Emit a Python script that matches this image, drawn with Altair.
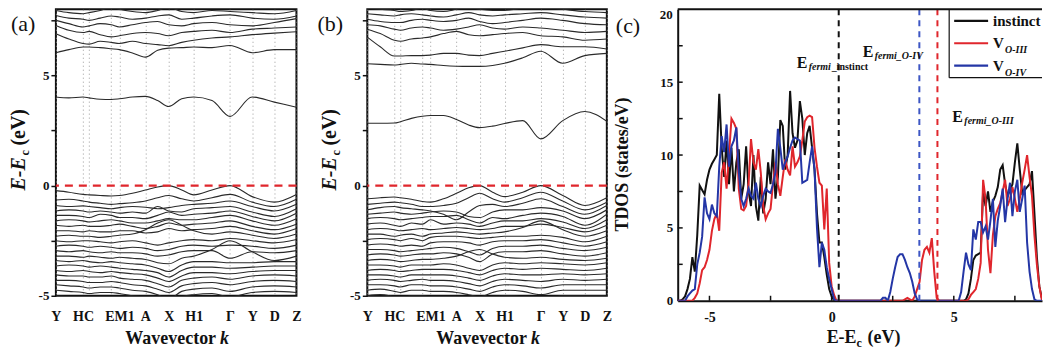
import altair as alt
import pandas as pd

SERIF = "Liberation Serif"
INK = "#111111"
RED = "#e0262c"
BLUE_CURVE = "#2436a6"
BLUE_DASH = "#3d56c4"

# ---------------- band structure data ----------------
K_POS = [0, 0.054, 0.113, 0.138, 0.184, 0.230, 0.264, 0.318, 0.372, 0.423,
         0.469, 0.523, 0.573, 0.649, 0.724, 0.816, 0.908, 1.0]
K_TICKS = [0, 0.113, 0.138, 0.230, 0.264, 0.372, 0.469, 0.573, 0.724, 0.816, 0.908, 1.0]
K_NAMES = ["Y", "HC", "", "", "EM1", "A", "X", "H1", "Γ", "Y", "D", "Z"]

BANDS_A = [
    [4.02, 3.98, 4.02, 3.98, 3.92, 3.91, 3.94, 4.02, 4.05, 3.86, 3.59, 3.94, 4.02, 3.86, 3.14, 4.02, 3.79, 3.56],
    [6.03, 6.17, 6.29, 6.29, 6.26, 6.21, 6.17, 6.02, 5.83, 6.14, 6.24, 6.26, 6.29, 6.26, 6.36, 6.03, 6.17, 6.17],
    [6.89, 6.65, 6.45, 6.42, 6.55, 6.5, 6.45, 6.55, 6.45, 6.4, 6.35, 6.5, 6.6, 6.7, 6.75, 6.85, 6.92, 6.98],
    [7.27, 7.05, 6.95, 7.0, 6.85, 6.75, 6.8, 6.9, 6.95, 6.9, 6.8, 6.95, 7.0, 7.05, 6.95, 7.1, 7.15, 7.2],
    [7.5, 7.35, 7.2, 7.25, 7.35, 7.3, 7.2, 7.3, 7.4, 7.45, 7.3, 7.25, 7.35, 7.4, 7.3, 7.25, 7.4, 7.58],
    [7.72, 7.6, 7.55, 7.5, 7.6, 7.7, 7.65, 7.55, 7.6, 7.7, 7.75, 7.55, 7.6, 7.7, 7.75, 7.6, 7.55, 7.7],
    [7.95, 7.85, 7.8, 7.85, 7.95, 8.1, 8.0, 7.9, 7.85, 7.95, 8.1, 7.9, 7.85, 7.95, 7.9, 7.85, 7.8, 7.95],
    [-0.23, -0.3, -0.4, -0.42, -0.45, -0.47, -0.45, -0.35, -0.2, -0.06, 0.0, -0.2, -0.42, -0.2, 0.0, -0.5, -0.75, -0.4],
    [-0.65, -0.62, -0.7, -0.75, -0.8, -0.85, -0.82, -0.78, -0.7, -0.55, -0.45, -0.6, -0.7, -0.55, -0.4, -0.75, -0.95, -0.62],
    [-0.9, -0.95, -0.92, -0.95, -1.0, -1.05, -1.0, -0.95, -0.98, -1.05, -1.0, -0.9, -0.85, -0.8, -0.7, -0.95, -1.15, -0.85],
    [-1.15, -1.1, -1.15, -1.2, -1.15, -1.2, -1.25, -1.2, -1.25, -0.95, -1.15, -1.2, -1.05, -1.0, -0.95, -1.2, -1.4, -1.05],
    [-1.35, -1.35, -1.4, -1.45, -1.3, -1.35, -1.45, -1.45, -1.5, -1.35, -1.2, -1.35, -1.3, -1.25, -1.15, -1.4, -1.6, -1.25],
    [-1.6, -1.55, -1.6, -1.65, -1.6, -1.55, -1.6, -1.7, -1.7, -1.6, -1.5, -1.55, -1.55, -1.45, -1.35, -1.6, -1.8, -1.5],
    [-1.8, -1.85, -1.8, -1.85, -1.85, -1.8, -1.75, -1.85, -1.95, -1.85, -1.7, -1.8, -1.75, -1.7, -1.6, -1.85, -2.0, -1.75],
    [-2.05, -2.05, -2.1, -2.05, -2.1, -2.1, -2.05, -2.05, -2.15, -2.1, -1.95, -2.05, -2.0, -1.95, -1.85, -2.05, -2.2, -1.95],
    [-2.3, -2.25, -2.3, -2.3, -2.35, -2.3, -2.25, -2.2, -2.0, -1.7, -1.55, -1.8, -2.05, -2.2, -2.1, -2.25, -2.4, -2.2],
    [-2.5, -2.55, -2.5, -2.5, -2.55, -2.6, -2.55, -2.5, -2.6, -2.7, -2.6, -2.5, -2.45, -2.5, -2.4, -2.5, -2.6, -2.45],
    [-2.75, -2.7, -2.75, -2.8, -2.75, -2.8, -2.85, -2.8, -2.85, -2.95, -2.9, -2.75, -2.7, -2.75, -2.7, -2.75, -2.85, -2.7],
    [-2.95, -3.0, -2.95, -3.0, -3.05, -3.0, -3.05, -3.05, -3.1, -3.2, -3.15, -3.0, -2.95, -2.95, -3.3, -3.0, -3.05, -2.95],
    [-3.2, -3.2, -3.25, -3.2, -3.25, -3.3, -3.25, -3.3, -3.35, -3.5, -3.55, -3.3, -3.2, -2.9, -2.5, -3.0, -3.4, -3.2],
    [-3.4, -3.45, -3.4, -3.45, -3.5, -3.45, -3.5, -3.55, -3.6, -3.75, -3.9, -3.6, -3.45, -3.45, -3.5, -3.5, -3.45, -3.45],
    [-3.65, -3.6, -3.65, -3.7, -3.65, -3.7, -3.75, -3.8, -3.85, -3.95, -4.15, -3.85, -3.7, -3.7, -3.75, -3.7, -3.65, -3.65],
    [-3.85, -3.9, -3.85, -3.9, -3.95, -3.9, -3.95, -4.0, -4.05, -4.2, -4.35, -4.1, -3.95, -3.95, -4.0, -3.9, -3.85, -3.85],
    [-4.05, -4.1, -4.1, -4.15, -4.15, -4.1, -4.2, -4.25, -4.3, -4.45, -4.6, -4.3, -4.2, -4.15, -4.25, -4.1, -4.05, -4.1],
    [-4.3, -4.3, -4.35, -4.4, -4.4, -4.35, -4.4, -4.5, -4.55, -4.7, -4.85, -4.55, -4.45, -4.4, -4.5, -4.35, -4.3, -4.35],
    [-4.5, -4.55, -4.6, -4.65, -4.6, -4.6, -4.65, -4.75, -4.8, -4.95, -5.15, -4.8, -4.7, -4.65, -4.8, -4.6, -4.55, -4.6],
    [-4.75, -4.8, -4.85, -4.9, -4.85, -4.85, -4.9, -5.0, -5.05, -5.2, -5.4, -5.05, -4.95, -4.9, -5.05, -4.85, -4.8, -4.85],
    [-5.0, -5.05, -5.1, -5.15, -5.1, -5.1, -5.15, -5.25, -5.3, -5.45, -5.6, -5.3, -5.2, -5.15, -5.3, -5.1, -5.05, -5.1],
]

BANDS_B = [
    [2.83, 2.83, 2.84, 2.9, 3.05, 3.15, 3.18, 3.18, 3.0, 2.75, 2.63, 2.7, 2.82, 2.95, 2.12, 2.95, 3.36, 2.92],
    [5.53, 5.5, 5.47, 5.5, 5.55, 5.52, 5.5, 5.45, 5.42, 5.41, 5.41, 5.45, 5.55, 5.8, 6.1, 5.55, 5.9, 6.0],
    [6.74, 6.3, 5.88, 5.88, 5.9, 5.9, 5.92, 6.0, 6.0, 5.92, 5.9, 6.0, 6.1, 6.25, 6.4, 6.3, 6.3, 6.2],
    [7.1, 6.9, 6.6, 6.55, 6.65, 6.7, 6.75, 6.9, 7.0, 6.85, 6.8, 6.85, 6.9, 6.95, 6.8, 6.75, 6.6, 6.65],
    [7.3, 7.25, 7.1, 7.05, 7.15, 7.2, 7.15, 7.05, 7.1, 7.2, 7.3, 7.15, 7.1, 7.2, 7.15, 7.05, 6.95, 7.0],
    [7.55, 7.45, 7.4, 7.4, 7.5, 7.55, 7.5, 7.45, 7.5, 7.6, 7.45, 7.35, 7.4, 7.5, 7.6, 7.5, 7.35, 7.3],
    [7.8, 7.75, 7.7, 7.75, 7.8, 7.75, 7.7, 7.65, 7.75, 7.85, 7.75, 7.7, 7.75, 7.8, 7.85, 7.75, 7.65, 7.6],
    [8.05, 8.0, 7.95, 7.9, 7.95, 8.05, 7.95, 7.9, 8.0, 8.1, 8.0, 7.95, 7.95, 8.05, 8.1, 8.0, 7.9, 7.85],
    [-0.6, -0.55, -0.52, -0.55, -0.62, -0.72, -0.75, -0.6, -0.35, -0.1, 0.0, -0.3, -0.5, -0.3, 0.0, -0.45, -0.9, -0.55],
    [-0.85, -0.8, -0.75, -0.78, -0.85, -0.95, -0.95, -0.9, -0.8, -0.55, -0.35, -0.6, -0.75, -0.55, -0.3, -0.7, -1.1, -0.75],
    [-1.1, -1.0, -0.95, -1.0, -1.05, -1.1, -1.15, -1.3, -1.55, -1.2, -0.9, -0.85, -0.95, -0.8, -0.6, -0.95, -1.3, -0.9],
    [-1.3, -1.25, -1.2, -1.25, -1.3, -1.25, -1.2, -1.15, -1.2, -1.4, -1.45, -1.2, -1.1, -1.1, -1.0, -1.15, -1.5, -1.1],
    [-1.5, -1.45, -1.5, -1.55, -1.5, -1.45, -1.4, -1.4, -1.35, -1.55, -1.7, -1.45, -1.5, -1.35, -1.25, -1.4, -1.8, -1.3],
    [-1.75, -1.7, -1.8, -1.85, -1.7, -1.75, -1.55, -1.75, -1.7, -1.75, -1.85, -1.7, -1.6, -1.6, -1.5, -1.65, -1.95, -1.55],
    [-2.0, -1.95, -2.0, -2.05, -2.0, -1.95, -2.0, -1.95, -1.9, -1.95, -2.0, -1.95, -1.85, -1.85, -1.75, -1.9, -2.1, -1.8],
    [-2.2, -2.2, -2.3, -2.25, -2.2, -2.3, -2.2, -2.15, -2.1, -2.15, -2.2, -2.15, -2.1, -1.9, -1.6, -2.0, -2.3, -2.05],
    [-2.45, -2.4, -2.45, -2.5, -2.4, -2.5, -2.35, -2.3, -2.3, -2.35, -2.4, -2.35, -2.3, -2.3, -2.25, -2.35, -2.55, -2.3],
    [-2.7, -2.65, -2.7, -2.75, -2.7, -2.75, -2.6, -2.55, -2.55, -2.6, -2.7, -2.55, -2.5, -2.5, -2.45, -2.6, -2.75, -2.55],
    [-2.9, -2.9, -2.95, -3.0, -2.95, -2.9, -2.85, -2.8, -2.85, -3.0, -3.15, -2.85, -2.75, -2.75, -2.7, -2.85, -2.95, -2.8],
    [-3.15, -3.1, -3.15, -3.2, -3.15, -3.1, -3.1, -3.05, -3.1, -3.25, -3.45, -3.1, -3.0, -3.0, -2.95, -3.1, -3.2, -3.05],
    [-3.4, -3.35, -3.4, -3.45, -3.4, -3.35, -3.35, -3.3, -3.2, -3.0, -2.9, -3.1, -3.25, -3.3, -3.25, -3.35, -3.4, -3.3],
    [-3.6, -3.6, -3.65, -3.7, -3.6, -3.6, -3.6, -3.55, -3.6, -3.75, -3.85, -3.6, -3.5, -3.55, -3.5, -3.55, -3.6, -3.5],
    [-3.85, -3.8, -3.85, -3.9, -3.85, -3.8, -3.8, -3.8, -3.85, -3.95, -4.05, -3.85, -3.75, -3.8, -3.75, -3.8, -3.85, -3.75],
    [-4.05, -4.05, -4.1, -4.15, -4.05, -4.05, -4.05, -4.05, -4.1, -4.2, -4.3, -4.1, -4.0, -4.05, -4.05, -4.0, -4.05, -4.0],
    [-4.3, -4.25, -4.3, -4.35, -4.3, -4.25, -4.3, -4.3, -4.35, -4.45, -4.55, -4.35, -4.25, -4.3, -4.35, -4.25, -4.3, -4.25],
    [-4.5, -4.5, -4.55, -4.6, -4.5, -4.5, -4.55, -4.55, -4.6, -4.7, -4.8, -4.6, -4.5, -4.55, -4.65, -4.5, -4.5, -4.5],
    [-4.75, -4.7, -4.8, -4.85, -4.75, -4.75, -4.8, -4.8, -4.85, -4.95, -5.05, -4.85, -4.75, -4.8, -4.95, -4.75, -4.75, -4.75],
    [-5.0, -4.95, -5.05, -5.1, -5.0, -5.0, -5.05, -5.05, -5.1, -5.2, -5.3, -5.1, -5.0, -5.05, -5.2, -5.0, -5.0, -5.0],
]

# ---------------- TDOS data (energies -6.5 ... 8.9 eV, step 0.1) ----------------
DOS_E_START = -6.5
DOS_E_STEP = 0.1
DOS_INSTINCT = [
    0, 0, 0, 0, 0.1, 0.3, 0.8, 1.5, 3.0, 2.0,
    4.5, 7.9, 7.6, 7.3, 8.3, 9.0, 9.4, 9.7, 10.0, 14.2,
    10.5, 8.5, 11.0, 8.0, 10.5, 7.5, 9.5, 10.4, 7.0, 8.0,
    10.6, 7.5, 6.5, 10.0, 6.5, 5.5, 8.5, 6.0, 7.0, 9.5,
    8.0, 10.4, 7.0, 8.5, 12.4, 12.0, 9.0, 10.0, 14.4, 11.5,
    10.5, 11.0, 13.7, 12.5, 10.0, 11.5, 12.0, 10.5, 9.0, 6.0,
    4.0, 4.0, 3.0, 1.8, 0.8, 0.3, 0.05, 0, 0, 0,
    0, 0, 0, 0, 0, 0, 0, 0, 0, 0,
    0, 0, 0, 0, 0, 0, 0, 0, 0, 0,
    0, 0, 0, 0, 0, 0, 0, 0, 0, 0,
    0, 0, 0, 0, 0, 0, 0, 0, 0, 0,
    0, 0, 0, 0, 0, 0, 0, 0, 0, 0,
    0.1, 0.5, 1.5, 2.8, 3.1, 3.2, 3.3, 7.5, 6.5, 7.5,
    6.1, 6.8, 7.2, 7.8, 9.0, 9.3, 8.0, 7.2, 7.6, 8.0,
    9.5, 10.8, 9.0, 7.4, 7.6, 7.8, 8.0, 8.9, 6.0, 3.0,
    1.0, 0.2, 0, 0, 0,
]
DOS_VO3 = [
    0, 0, 0, 0, 0, 0, 0, 0, 0, 0.2,
    0.5, 1.2, 2.1, 2.3, 2.8, 3.5, 4.8, 5.6, 6.0, 4.8,
    8.8, 9.5, 7.7, 10.0, 12.5, 12.2, 11.8, 7.7, 6.3, 6.2,
    6.5, 8.0, 11.1, 9.5, 9.0, 10.4, 8.8, 6.5, 5.6, 6.0,
    6.3, 8.0, 9.5, 8.0, 7.2, 8.5, 9.7, 9.0, 8.6, 10.6,
    9.2, 9.5, 9.9, 11.0, 12.3, 12.6, 12.7, 12.6, 10.5, 9.2,
    8.1, 7.9, 4.9, 7.7, 2.6, 1.0, 0.4, 0, 0, 0,
    0, 0, 0, 0, 0, 0, 0, 0, 0, 0,
    0, 0, 0, 0, 0, 0, 0, 0, 0, 0,
    0, 0, 0, 0, 0, 0.1, 0.2, 0.1, 0, 0.3,
    0.8, 1.3, 2.8, 3.5, 3.7, 3.3, 4.3, 2.0, 0.2, 0,
    0, 0, 0, 0, 0, 0, 0, 0, 0, 0,
    0, 0.1, 0.4, 0.6, 0.8, 1.5, 2.6, 8.3, 7.0, 3.5,
    1.9, 4.5, 5.8, 6.3, 6.7, 7.5, 8.3, 6.5, 7.0, 7.8,
    7.0, 6.1, 7.0, 8.1, 9.0, 10.0, 8.5, 7.2, 4.5, 2.5,
    1.0, 0.1, 0, 0, 0,
]
DOS_VO4 = [
    0, 0, 0, 0, 0, 0, 0.3, 0.5, 0.7, 0.8,
    2.5, 3.3, 4.4, 7.1, 6.0, 5.6, 6.6, 6.0, 5.8, 9.2,
    11.3, 10.2, 12.1, 9.2, 10.6, 11.0, 11.9, 8.8, 7.0, 6.5,
    7.0, 7.7, 7.2, 7.0, 8.1, 7.0, 6.5, 7.2, 7.7, 7.5,
    7.4, 8.0, 8.8, 11.8, 10.5, 9.0, 9.5, 9.9, 10.5, 11.0,
    11.2, 11.1, 11.0, 8.1, 8.2, 8.3, 9.5, 10.6, 9.0, 5.0,
    2.3, 4.0, 3.5, 2.3, 1.5, 0.8, 0.1, 0, 0, 0,
    0, 0, 0, 0, 0, 0, 0, 0, 0, 0,
    0, 0, 0, 0, 0, 0, 0.2, 0.2, 0, 0.6,
    1.5, 2.3, 3.0, 3.2, 3.2, 2.8, 2.3, 1.9, 1.3, 0.5,
    0.1, 0, 0, 0, 0, 0, 0, 0, 0, 0,
    0, 0, 0, 0, 0, 0, 0, 0, 0.6, 2.0,
    3.3, 2.5, 2.1, 4.9, 4.2, 5.4, 5.4, 4.7, 5.1, 4.2,
    5.5, 7.0, 3.7, 5.5, 6.5, 7.7, 5.4, 7.0, 8.1, 5.8,
    7.5, 8.3, 6.1, 7.0, 7.9, 4.0, 2.0, 0.8, 0.1, 0,
    0, 0, 0, 0, 0,
]
assert len(DOS_INSTINCT) == len(DOS_VO3) == len(DOS_VO4) == 155
for b in BANDS_A + BANDS_B:
    assert len(b) == len(K_POS)

FERMI_LEVELS = [0.29, 4.33, 3.59]
FERMI_COLORS = [INK, RED, BLUE_DASH]
# annotation anchors (eV, states/eV) for "E_fermi_..." labels
ANN_SUBS = [("fermi", "_instinct"), ("fermi_O-IV", ""), ("fermi_O-III", "")]
ANN_X = [-1.43, 1.27, 4.94]
ANN_Y = [16.3, 17.1, 12.6]

LEGEND_MAIN = ["instinct", "V", "V"]
LEGEND_SUB = ["", "O-III", "O-IV"]
LEGEND_COLORS = [INK, RED, BLUE_CURVE]

C_XTICKS = [-5, -2.5, 0, 2.5, 5, 7.5]
C_YTICKS = [2.5, 5, 7.5, 10, 12.5, 15, 17.5]

# ---------------- layout ----------------
WA, WB, WC = 241, 240, 365
H_AB, H_C = 287, 292
SPACING = 71
C_LEFT_ABS = 55 + WA + SPACING + WB + SPACING  # page x of panel c
C_DOM = [-6.3, 8.61]


def one():
    return pd.DataFrame({"t": [""]})


def txt(text, x, y, size, weight="bold", style="normal", angle=0,
        align="left", baseline="alphabetic", color=INK, clip=False):
    return alt.Chart(pd.DataFrame({"t": [text]})).mark_text(
        font=SERIF, fontSize=size, fontWeight=weight, fontStyle=style,
        angle=angle, align=align, baseline=baseline, color=color, clip=clip
    ).encode(x=alt.value(x), y=alt.value(y), text="t:N")


K_EXPR = "''"
for v, n in reversed(list(zip(K_TICKS, K_NAMES))):
    K_EXPR = f"abs(datum.value - {v}) < 0.002 ? '{n}' : ({K_EXPR})"
Y_EXPR = "datum.value % 5 === 0 ? '' + datum.value : ''"


def band_panel(bands, W, tag, tag_x):
    rows = [{"band": i, "k": k, "E": e}
            for i, b in enumerate(bands) for k, e in zip(K_POS, b)]
    df = pd.DataFrame(rows)
    xsc = alt.Scale(domain=[0, 1], nice=False, zero=False)
    ysc = alt.Scale(domain=[-5, 8], nice=False, zero=False)
    xax = alt.Axis(values=K_TICKS, labelExpr=K_EXPR, title=None, grid=True,
                   gridDash=[1, 3], gridColor="#9a9a9a", gridWidth=1,
                   ticks=False, domain=False, labelFont=SERIF, labelFontSize=14,
                   labelFontWeight="bold", labelColor=INK, labelPadding=14,
                   labelOverlap=False, labelFlush=False, labelAngle=0)
    yax = alt.Axis(values=[-5, -2.5, 0, 2.5, 5, 7.5], labelExpr=Y_EXPR, title=None,
                   grid=False, ticks=True, tickSize=5, tickColor=INK, tickWidth=1.5,
                   domain=False, labelFont=SERIF, labelFontSize=13,
                   labelFontWeight="bold", labelColor=INK, labelPadding=2,
                   labelFlush=False)
    lines = alt.Chart(df).mark_line(
        color="#2a2a2a", strokeWidth=1.1, interpolate="monotone", clip=True
    ).encode(x=alt.X("k:Q", scale=xsc, axis=xax),
             y=alt.Y("E:Q", scale=ysc, axis=yax),
             detail="band:N")
    fermi = alt.Chart(pd.DataFrame({"E": [0.0]})).mark_rule(
        color=RED, strokeWidth=2.2, strokeDash=[8, 6]
    ).encode(y=alt.Y("E:Q", scale=ysc, axis=yax))
    layers = [lines, fermi,
              txt(tag, tag_x, 21.5, 22, weight="normal"),
              # y title  E-E_c (eV)
              txt("E-E", -31, 181.5, 20, style="italic", angle=270),
              txt("c", -27, 146.5, 12, angle=270),
              txt("(eV)", -31, 136.5, 20, angle=270),
              # x title  Wavevector k
              txt("Wavevector", W / 2 + 40, 335.5, 18, align="right"),
              txt("k", W / 2 + 44, 335.5, 18, style="italic"),
              ]
    return alt.layer(*layers).properties(width=W, height=H_AB)


panel_a = band_panel(BANDS_A, WA, "(a)", -45)
panel_b = band_panel(BANDS_B, WB, "(b)", -50)

# ---------------- panel c ----------------
n = len(DOS_INSTINCT)
E = [round(DOS_E_START + DOS_E_STEP * i, 2) for i in range(n)]
xsc_c = alt.Scale(domain=C_DOM, nice=False, zero=False)
ysc_c = alt.Scale(domain=[0, 20], nice=False, zero=False)
xax_c = alt.Axis(values=[-5, 0, 5], labelExpr="'' + datum.value", title=None,
                 grid=False, ticks=False, domain=True, domainColor=INK, domainWidth=2,
                 labelFont=SERIF, labelFontSize=14, labelFontWeight="bold",
                 labelColor=INK, labelPadding=10, labelFlush=False)
yax_c = alt.Axis(values=[0, 5, 10, 15], labelExpr="'' + datum.value", title=None,
                 grid=False, ticks=False, domain=True, domainColor=INK, domainWidth=2,
                 labelFont=SERIF, labelFontSize=13, labelFontWeight="bold",
                 labelColor=INK, labelPadding=5, labelFlush=False)


def X(field):
    return alt.X(field, scale=xsc_c, axis=xax_c)


def Y(field):
    return alt.Y(field, scale=ysc_c, axis=yax_c)


def dos_layer(vals, color):
    df = pd.DataFrame({"E": E, "dos": vals})
    return alt.Chart(df).mark_line(color=color, strokeWidth=2, clip=True).encode(
        x=X("E:Q"), y=Y("dos:Q"))


# inward tick marks (drawn from the tick value lists)
xticks_in = alt.Chart(pd.DataFrame({"v": C_XTICKS})).mark_rule(
    color=INK, strokeWidth=1.5).encode(x=X("v:Q"), y=alt.value(H_C), y2=alt.value(H_C - 5))
yticks_in = alt.Chart(pd.DataFrame({"v": C_YTICKS})).mark_rule(
    color=INK, strokeWidth=1.5).encode(y=Y("v:Q"), x=alt.value(0), x2=alt.value(5))
top_frame = alt.Chart(one()).mark_rule(color=INK, strokeWidth=2).encode(
    x=alt.value(0), x2=alt.value(WC), y=alt.value(0))

fermi_c = alt.Chart(pd.DataFrame({"E": FERMI_LEVELS, "c": FERMI_COLORS})).mark_rule(
    strokeWidth=2, strokeDash=[6, 5]
).encode(x=X("E:Q"), color=alt.Color("c:N", scale=None))

ann_layers = []
for (s1, s2), ax, ay in zip(ANN_SUBS, ANN_X, ANN_Y):
    d = pd.DataFrame({"x": [ax], "y": [ay]})
    base = alt.Chart(d).encode(x=X("x:Q"), y=Y("y:Q"))
    ann_layers.append(base.mark_text(text="E", font=SERIF, fontSize=16, fontWeight="bold",
                                     align="left", color=INK))
    ann_layers.append(base.mark_text(text=s1, font=SERIF, fontSize=10, fontWeight="bold",
                                     fontStyle="italic", align="left", dx=12, dy=4, color=INK))
    if s2:
        ann_layers.append(base.mark_text(text=s2, font=SERIF, fontSize=10, fontWeight="bold",
                                         align="left", dx=35, dy=4, color=INK))

LX = 950 - C_LEFT_ABS
LEG_BOTTOM = 68.5
legend_layers = [
    alt.Chart(one()).mark_rect(fill="white").encode(
        x=alt.value(LX), x2=alt.value(WC), y=alt.value(0), y2=alt.value(LEG_BOTTOM)),
    alt.Chart(one()).mark_rule(color=INK, strokeWidth=1.2).encode(
        x=alt.value(LX), y=alt.value(0), y2=alt.value(LEG_BOTTOM)),
    alt.Chart(one()).mark_rule(color=INK, strokeWidth=1.2).encode(
        x=alt.value(LX), x2=alt.value(WC), y=alt.value(LEG_BOTTOM)),
]
for i, (m, s, col) in enumerate(zip(LEGEND_MAIN, LEGEND_SUB, LEGEND_COLORS)):
    ry = 11.5 + 22.5 * i
    legend_layers.append(alt.Chart(one()).mark_rule(color=col, strokeWidth=2.2).encode(
        x=alt.value(LX + 5), x2=alt.value(LX + 39), y=alt.value(ry)))
    legend_layers.append(txt(m, LX + 44, ry, 15, baseline="middle", clip=True))
    if s:
        legend_layers.append(txt(s, LX + 56, ry + 7, 10, style="italic",
                                 baseline="middle", clip=True))

c0 = (0 - C_DOM[0]) / (C_DOM[1] - C_DOM[0]) * WC
panel_c = alt.layer(
    dos_layer(DOS_INSTINCT, INK),
    dos_layer(DOS_VO3, RED),
    dos_layer(DOS_VO4, BLUE_CURVE),
    fermi_c,
    *ann_layers,
    *legend_layers,
    xticks_in,
    yticks_in,
    top_frame,
    txt("20", -5, 6, 13, align="right", baseline="middle"),
    txt("(c)", -62, 23.5, 22, weight="normal"),
    txt("TDOS (states/eV)", -50, 155.5, 18, angle=270, align="center"),
    txt("E-E", c0 - 5, 334.5, 18),
    txt("c", c0 + 25, 338.5, 12),
    txt("(eV)", c0 + 36, 334.5, 18),
).properties(width=WC, height=H_C, view=alt.ViewBackground(stroke=None))

chart = alt.hconcat(panel_a, panel_b, panel_c, spacing=SPACING, bounds="flush").properties(
    padding={"left": 0, "top": 0, "right": 0, "bottom": 0}, background="white"
).configure_view(stroke=INK, strokeWidth=2)

chart.save("out.html", embed_options={"renderer": "svg", "actions": False})
